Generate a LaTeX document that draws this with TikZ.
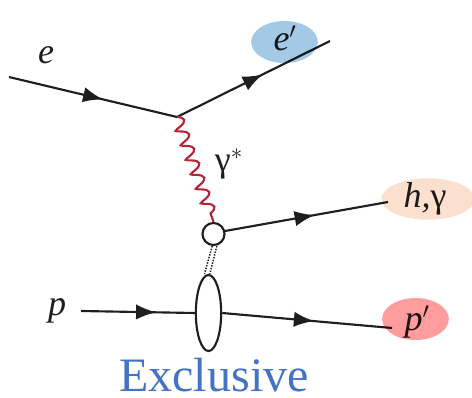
\documentclass[tikz,border=0pt]{standalone}
\usepackage{fontspec}
\setmainfont{Liberation Serif}
\usetikzlibrary{decorations.pathmorphing,decorations.markings,arrows.meta,shapes.geometric}
\definecolor{eblue}{HTML}{A3C9E6}
\definecolor{hpeach}{HTML}{FCE0CF}
\definecolor{pred}{HTML}{FF9C9C}
\definecolor{gred}{HTML}{B5253A}
\definecolor{txtblue}{HTML}{4472C4}
\definecolor{ink}{HTML}{1E1E1E}
\tikzset{
 fermion/.style={line width=1.6pt,color=ink,postaction={decorate},decoration={markings,mark=at position #1 with {\arrow{Latex[length=15pt,width=11.5pt]}}}},
 lab/.style={font=\itshape\fontsize{27}{27}\selectfont,text=ink,inner sep=0pt},
 tint/.style={ellipse,inner sep=0pt},
 outl/.style={draw=ink,line width=1.6pt,fill=white,inner sep=0pt},
 gluon/.style={color=gred,line width=1.6pt,decorate,decoration={coil,aspect=0.2,segment length=11.5pt,amplitude=4.4pt}},
 dotl/.style={densely dotted,line width=1.1pt,color=ink},
}
\begin{document}
\begin{tikzpicture}[x=0.75pt,y=-0.75pt]
\useasboundingbox (0,0) rectangle (472,397);
\coordinate (ein) at (9,77);
\coordinate (v) at (177,117);
\coordinate (eout) at (330,41);
\coordinate (hout) at (388,202);
\coordinate (pin) at (81,311);
\coordinate (pout) at (392,328);
\coordinate (hstart) at (225,231);
\node[circle,outl,minimum size=16.5pt] (blob) at (213.5,234) {};
\node[ellipse,outl,minimum width=19pt,minimum height=57pt] (pe) at (208.5,313) {};
\draw[fermion=0.56] (ein) -- (v);
\draw[fermion=0.56] (v) -- (eout);
\draw[fermion=0.55] (hstart) -- (hout);
\draw[fermion=0.66] (pin) -- (pe.west);
\draw[fermion=0.54] (pe.east) -- (pout);
\draw[gluon] (v) -- (blob.north);
\draw[dotl] ([xshift=-1pt]blob.south) -- ([xshift=-3pt]pe.north);
\draw[dotl] ([xshift=2.5pt]blob.south) -- ([xshift=1pt]pe.north);
\node[lab] (le) at (46,55) {e};
\node[lab] (lep) at (285,38) {e$'$};
\node[lab] (lp) at (57,311) {p};
\node[lab] (lh) at (425,199) {h,\upshape γ};
\node[lab] (lpp) at (417,322) {p$'$};
\node[inner sep=0pt,font=\fontsize{27}{27}\selectfont,text=ink] (lg) at (229,164) {γ$^{*}$};
\node[inner sep=0pt,anchor=base,font=\fontsize{36}{36}\selectfont,text=txtblue] (ex) at (214,391) {Exclusive};
\begin{scope}[blend mode=multiply]
\node[tint,fill=eblue,minimum width=50pt,minimum height=31.5pt] (eb) at (284.5,42) {};
\node[tint,fill=hpeach,minimum width=70pt,minimum height=31pt] (hb) at (428,199) {};
\node[tint,fill=pred,minimum width=50pt,minimum height=31.5pt] (pb) at (415.5,319) {};
\end{scope}
\end{tikzpicture}
\end{document}
